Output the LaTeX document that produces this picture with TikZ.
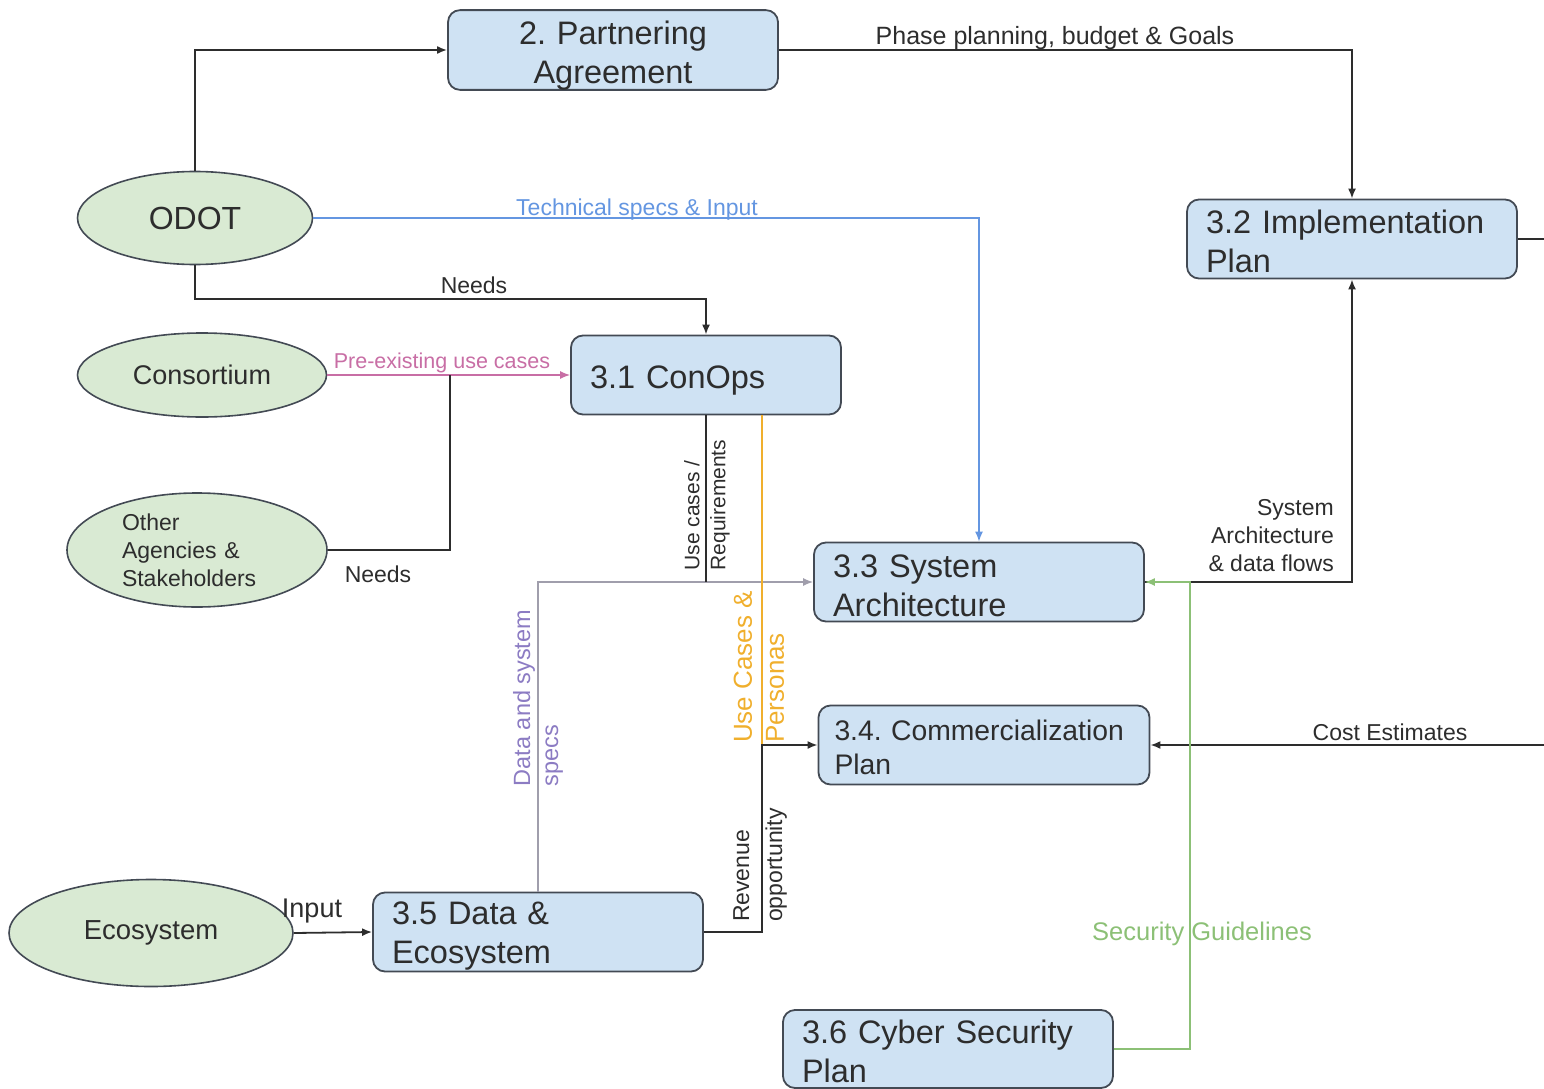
\documentclass[tikz,border=0pt]{standalone}
\usepackage{fontspec}
\setmainfont{Liberation Sans}
\usetikzlibrary{shapes.geometric,arrows.meta}
\frenchspacing
\hyphenpenalty=10000

\definecolor{boxblue}{RGB}{207,226,243}
\definecolor{leafgreen}{RGB}{217,234,211}
\definecolor{edgegray}{RGB}{67,74,84}
\definecolor{inkgray}{RGB}{45,45,45}
\definecolor{specblue}{RGB}{100,150,225}
\definecolor{usepink}{RGB}{200,110,165}
\definecolor{datapurple}{RGB}{140,124,195}
\definecolor{specgray}{RGB}{160,158,172}
\definecolor{personaorange}{RGB}{240,175,45}
\definecolor{securegreen}{RGB}{140,192,118}

\tikzset{
  planbox/.style={draw=edgegray, line width=1.8pt, fill=boxblue, rounded corners=12pt,
    minimum height=79pt, inner xsep=19pt, inner ysep=0pt, text width=292pt,
    align=left, font=\fontsize{32.5}{39}\selectfont, text=inkgray},
  actor/.style={ellipse, draw=edgegray, line width=1.6pt, fill=leafgreen, inner sep=0pt, text=inkgray},
  flow/.style={line width=1.8pt, draw=inkgray},
  tag/.style={font=\fontsize{23}{28}\selectfont, text=inkgray, inner sep=0pt},
}
\newcommand{\toplift}[1]{\rule{0pt}{#1}}

\begin{document}
\begin{tikzpicture}[x=1pt, y=-1pt, >={Latex[length=10pt,width=8pt]}]
    \useasboundingbox (0,0) rectangle (1544,1089);
    % stakeholders
    \node[actor, minimum width=235pt, minimum height=93pt, font=\fontsize{32}{38}\selectfont] (odot) at (195,218) {ODOT};
    \node[actor, minimum width=249pt, minimum height=84pt, font=\fontsize{27}{32}\selectfont] (consortium) at (202,375) {Consortium};
    \node[actor, minimum width=260pt, minimum height=114pt, text width=150pt, align=left, font=\fontsize{23}{28}\selectfont] (agencies) at (197,550) {Other\\Agencies \&\\Stakeholders};
    \node[actor, minimum width=284pt, minimum height=107pt, font=\fontsize{27.5}{32}\selectfont] (ecosystem) at (151,933) {Ecosystem};
    % plans
    \node[planbox, align=center] (partnering) at (613,50) {\toplift{34pt}2. Partnering\\Agreement};
    \node[planbox] (implplan) at (1352,239) {\toplift{28pt}3.2 Implementation\\Plan};
    \node[planbox, text width=232pt, text height=33pt] (conops) at (706,375) {3.1 ConOps};
    \node[planbox] (sysarch) at (979,582) {\toplift{30pt}3.3 System\\Architecture};
    \node[planbox, inner xsep=16pt, text width=299pt, font=\fontsize{28.3}{34}\selectfont] (commplan) at (984,745) {\toplift{24.5pt}3.4. Commercialization\\Plan};
    \node[planbox] (dataeco) at (538,932) {\toplift{30pt}3.5 Data \&\\Ecosystem};
    \node[planbox, minimum height=78pt] (cyberplan) at (948,1049) {\toplift{29pt}3.6 Cyber Security\\Plan};
    \coordinate (needsjoin) at (450,375);
    \coordinate (revjoin) at (762,745);
    % connectors
    \draw[flow,->] (odot.north) |- (partnering.west);
    \draw[flow,->] (partnering.east) -| (implplan.north);
    \draw[flow,specblue,line width=1.5pt,->] (odot.east) -| (sysarch.north);
    \draw[flow,->] (odot.south) -- ++(0,34) -| (conops.north);
    \draw[flow,usepink,line width=1.5pt,->] (consortium.east) -- (conops.west);
    \draw[flow] (agencies.east) -| (needsjoin);
    \draw[flow,specgray,line width=1.5pt,->] (dataeco.north) |- (sysarch.west);
    \draw[flow] (conops.south) -- (conops.south |- sysarch.west);
    \draw[flow,personaorange,line width=1.5pt] (conops.south -| revjoin) -- (revjoin);
    \draw[flow,->] (dataeco.east) -| (revjoin) -- (commplan.west);
    \draw[flow,->] (implplan.east) -- ++(60,0) |- (commplan.east);
    \draw[flow,->] (sysarch.east) -| (implplan.south);
    \draw[flow,securegreen,line width=1.5pt,->] (cyberplan.east) -- ++(76,0) |- (sysarch.east);
    \draw[flow,->] (ecosystem.east) -- (dataeco.west);
    % labels
    \node[tag, anchor=base, font=\fontsize{25}{30}\selectfont] (goalslbl) at (1055,45) {Phase planning, budget \& Goals};
    \node[tag, anchor=base, text=specblue] (techlbl) at (637,215) {Technical specs \& Input};
    \node[tag, anchor=base] (needslbl) at (474,293) {Needs};
    \node[tag, anchor=base, text=usepink, font=\fontsize{21.5}{26}\selectfont] (prelbl) at (442,368) {Pre-existing use cases};
    \node[tag, anchor=base] (agneedslbl) at (378,582) {Needs};
    \node[tag, anchor=base, font=\fontsize{27}{32}\selectfont] (inputlbl) at (312,917) {Input};
    \node[tag, anchor=base] (costlbl) at (1390,740) {Cost Estimates};
    \node[tag, anchor=base, text=securegreen, font=\fontsize{25.5}{30}\selectfont] (securelbl) at (1202,940) {Security Guidelines};
    \node[tag, anchor=east, align=right] (flowslbl) at (1334,536) {System\\Architecture\\\& data flows};
    \node[tag, rotate=90, align=left, font=\fontsize{21}{26}\selectfont] (reqlbl) at (707,505) {Use cases /\\Requirements};
    \node[tag, rotate=90, align=left, text=datapurple, font=\fontsize{23.5}{28}\selectfont] (speclbl) at (538,698) {Data and system\\specs};
    \node[tag, rotate=90, align=left, text=personaorange, font=\fontsize{26}{32}\selectfont] (personalbl) at (759,667) {Use Cases \&\\Personas};
    \node[tag, rotate=90, align=left, font=\fontsize{23}{33}\selectfont] (revlbl) at (760,865) {Revenue\\opportunity};
\end{tikzpicture}
\end{document}
